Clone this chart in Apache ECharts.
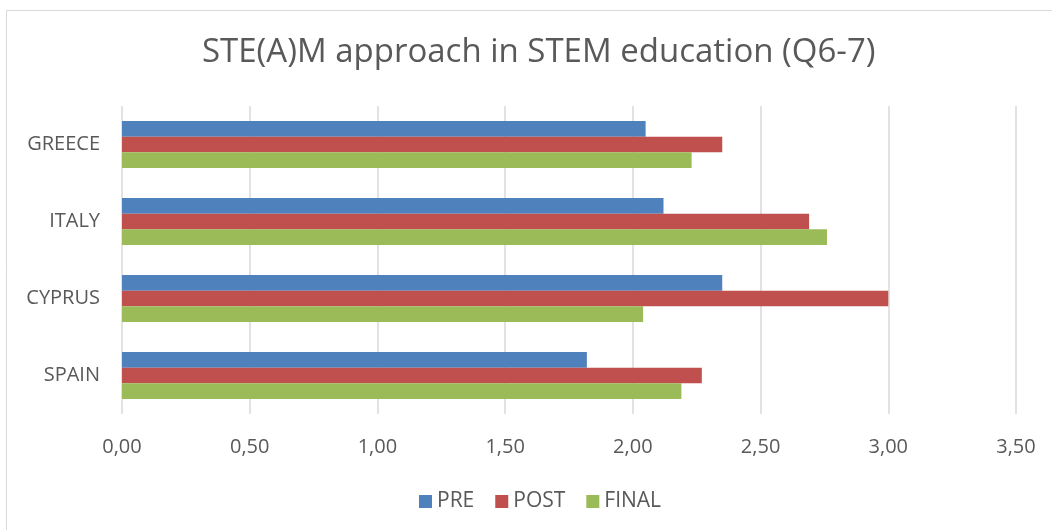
<!DOCTYPE html>
<html>
<head>
<meta charset="utf-8">
<script src="https://cdn.jsdelivr.net/npm/echarts@6/dist/echarts.min.js"></script>
<style>
    html, body { margin: 0; padding: 0; background: #fff; }
    #chart { width: 1052px; height: 530px; }
</style>
</head>
<body>
<div id="chart"></div>
<script>
// categories from bottom to top, as the axis draws them
var countries = ['SPAIN', 'CYPRUS', 'ITALY', 'GREECE'];
var preValues = [1.82, 2.35, 2.12, 2.05];
var postValues = [2.27, 3.00, 2.69, 2.35];
var finalValues = [2.19, 2.04, 2.76, 2.23];
var seriesNames = ['PRE', 'POST', 'FINAL'];
var seriesColors = ['#4F81BD', '#C0504D', '#9BBB59'];

var font = 'Open Sans';
var textColor = '#595959';

var chart = echarts.init(document.getElementById('chart'));

function barSeries(name, data, color){
    return {
        name: name,
        type: 'bar',
        data: data,
        barGap: '0%',
        barCategoryGap: '39%',
        itemStyle: { color: color },
        emphasis: { disabled: true }
    };
}

chart.setOption({
    animation: false,
    graphic: [{
        type: 'rect',
        shape: { x: 6.5, y: 10.5, width: 1100, height: 600 },
        style: { fill: 'none', stroke: '#d9d9d9', lineWidth: 1 },
        silent: true
    }],
    title: {
        text: 'STE(A)M approach in STEM education (Q6-7)',
        left: 197,
        top: 31,
        textStyle: { fontFamily: font, fontSize: 33, fontWeight: 'normal', color: textColor }
    },
    legend: {
        data: seriesNames,
        top: 486,
        left: 414,
        itemWidth: 13,
        itemHeight: 13,
        itemGap: 21,
        icon: 'rect',
        textStyle: { fontFamily: font, fontSize: 21, color: textColor, padding: [0, 0, 0, 0] }
    },
    grid: { left: 122, right: 36, top: 106, bottom: 116, containLabel: false },
    xAxis: {
        type: 'value',
        min: 0,
        max: 3.5,
        interval: 0.5,
        axisLine: { show: false },
        axisTick: { show: false },
        splitLine: { lineStyle: { color: '#d9d9d9', width: 1.5 } },
        axisLabel: {
            margin: 23,
            fontFamily: font,
            fontSize: 20,
            color: textColor,
            formatter: function(v){ return v.toFixed(2).replace('.', ','); }
        }
    },
    yAxis: {
        type: 'category',
        data: countries,
        axisLine: { show: false },
        axisTick: { show: false },
        splitLine: { show: false },
        axisLabel: { margin: 22, fontFamily: font, fontSize: 20, color: textColor }
    },
    series: [
        barSeries(seriesNames[0], preValues, seriesColors[0]),
        barSeries(seriesNames[1], postValues, seriesColors[1]),
        barSeries(seriesNames[2], finalValues, seriesColors[2])
    ]
});
</script>
</body>
</html>
